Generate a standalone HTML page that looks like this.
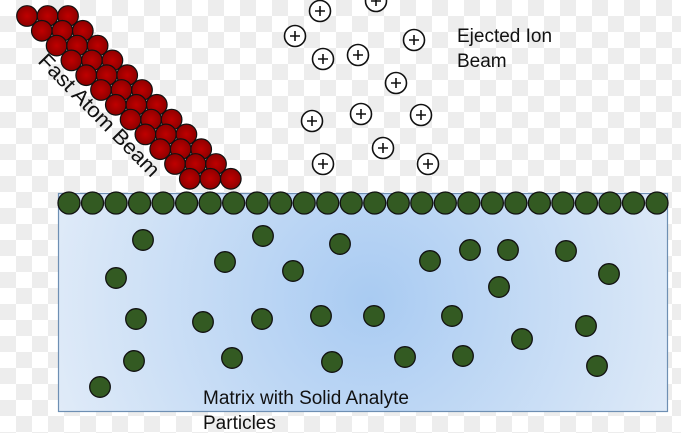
<!DOCTYPE html>
<html><head><style>
html,body{margin:0;padding:0;}
body{width:681px;height:433px;overflow:hidden;
background-color:#fff;
background-image:linear-gradient(45deg,#ededed 25%,transparent 25%,transparent 75%,#ededed 75%),linear-gradient(45deg,#ededed 25%,transparent 25%,transparent 75%,#ededed 75%);
background-size:32px 32px;background-position:0 0,16px 16px;}
svg{position:absolute;left:0;top:0;}
text{font-family:"Liberation Sans",sans-serif;fill:#111;}
</style></head><body>
<svg width="681" height="433" viewBox="0 0 681 433">
<defs>
<radialGradient id="bg" cx="370" cy="300" r="330" gradientUnits="userSpaceOnUse">
<stop offset="0" stop-color="#a9cbf2"/><stop offset="1" stop-color="#e0ebf8"/></radialGradient>
<radialGradient id="red" cx="0.5" cy="0.5" r="0.5">
<stop offset="0" stop-color="#c00000"/><stop offset="1" stop-color="#8e0000"/></radialGradient>
</defs>
<rect x="58.5" y="193.5" width="609" height="218" fill="url(#bg)" stroke="#6e8fb3" stroke-width="1.2"/>
<g id="beam" fill="url(#red)" stroke="#111" stroke-width="1.2"></g>
<g id="top" fill="#335a22" stroke="#111" stroke-width="1.3"></g>
<g id="parts" fill="#335a22" stroke="#111" stroke-width="1.3"></g>
<g id="ions" fill="#fff" stroke="#111" stroke-width="1.6"></g>
<text x="457" y="42" font-size="19">Ejected Ion</text>
<text x="457" y="67" font-size="19">Beam</text>
<text x="203" y="404" font-size="19">Matrix with Solid Analyte</text>
<text x="203" y="429" font-size="19">Particles</text>
<text x="0" y="0" font-size="21" textLength="163" lengthAdjust="spacingAndGlyphs" transform="translate(37,62) rotate(45.5)">Fast Atom Beam</text>
</svg>
<script>
var ns="http://www.w3.org/2000/svg";
function c(g,x,y,r){var e=document.createElementNS(ns,"circle");e.setAttribute("cx",x);e.setAttribute("cy",y);e.setAttribute("r",r);document.getElementById(g).appendChild(e);}
for(var i=0;i<12;i++)for(var j=0;j<3;j++)c("beam",27+i*14.8+j*20.5,16+i*14.8,10.3);
for(var i=0;i<26;i++)c("top",69+i*23.52,203,11);
[[143,240],[263,236],[340,244],[116,278],[225,262],[293,271],[430,261],[470,250],[508,250],[566,251],[609,274],[499,287],[136,319],[203,322],[262,319],[321,316],[374,316],[452,316],[586,326],[522,339],[134,361],[232,358],[332,362],[405,357],[463,356],[597,366],[100,387]].forEach(function(p){c("parts",p[0],p[1],10.3);});
var ions=[[320,11],[376,1],[295,36],[414,40],[323,59],[358,55],[396,83],[312,121],[361,114],[421,115],[383,148],[323,164],[428,164]];
ions.forEach(function(p){c("ions",p[0],p[1],10.5);
var pl=document.createElementNS(ns,"path");pl.setAttribute("d","M"+(p[0]-5)+" "+p[1]+"h10M"+p[0]+" "+(p[1]-5)+"v10");pl.setAttribute("stroke","#111");pl.setAttribute("stroke-width","1.6");document.getElementById("ions").appendChild(pl);});
</script>
</body></html>
